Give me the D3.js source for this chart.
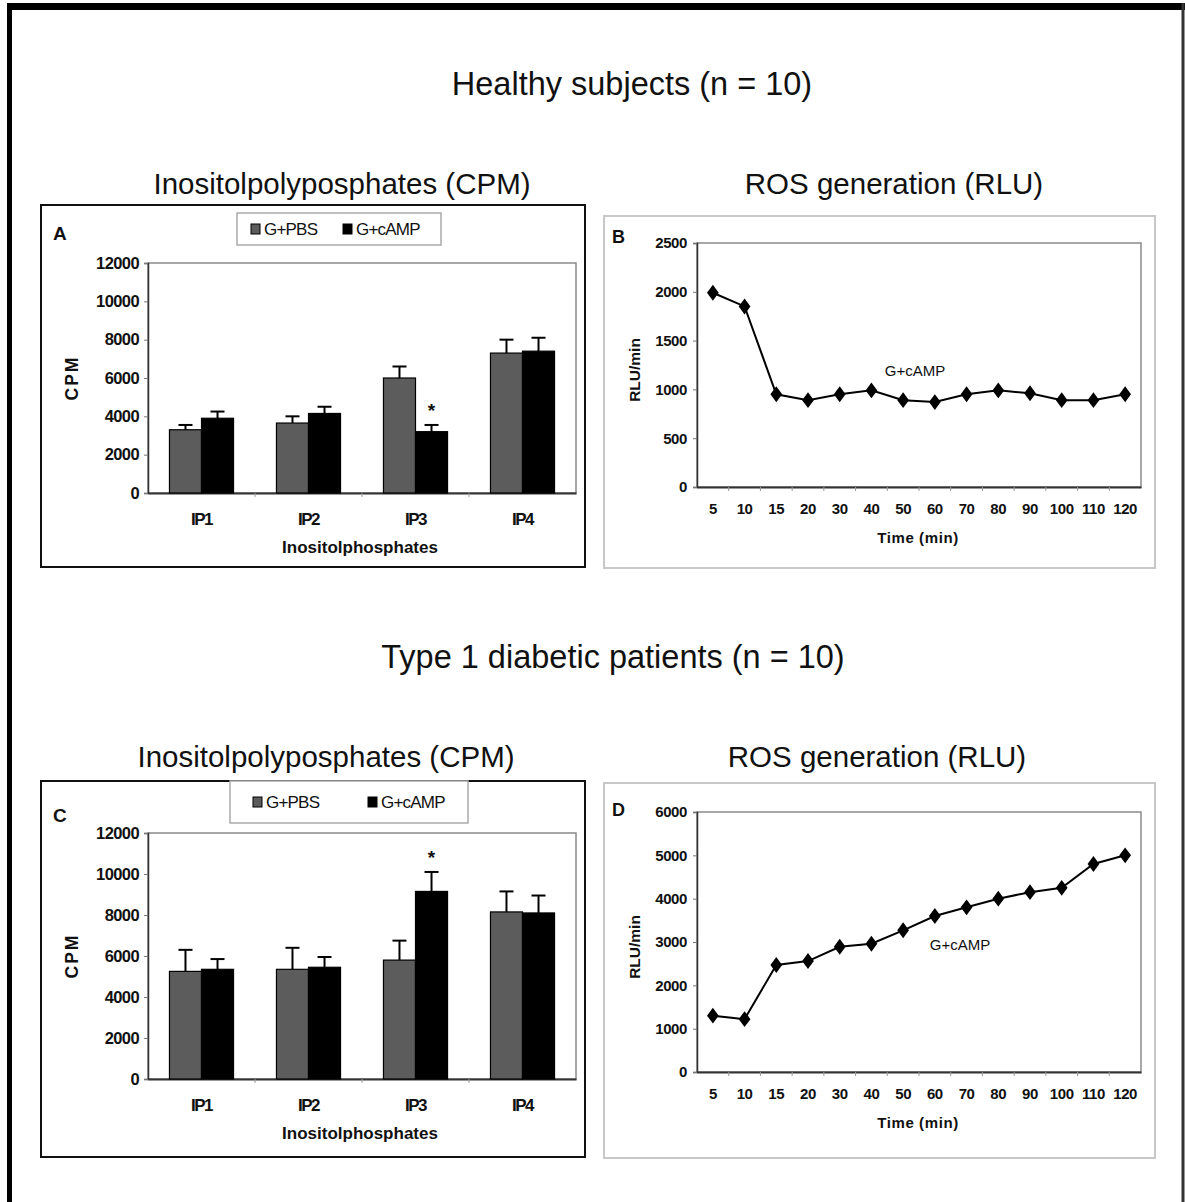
<!DOCTYPE html>
<html>
<head>
<meta charset="utf-8">
<script src="https://cdn.jsdelivr.net/npm/d3@7"></script>
<style>
  body { margin: 0; background: #fff; }
  text { font-family: "Liberation Sans", Arial, sans-serif; fill: #111; }
</style>
</head>
<body>
<svg id="fig" width="1185" height="1202"></svg>
<script>
// categories / tick labels
const ipCats = ['IP1', 'IP2', 'IP3', 'IP4'];
const seriesNames = ['G+PBS', 'G+cAMP'];
const times = ['5', '10', '15', '20', '30', '40', '50', '60', '70', '80', '90', '100', '110', '120'];
const cpmTicks = [0, 2000, 4000, 6000, 8000, 10000, 12000];
const rosTicksB = [0, 500, 1000, 1500, 2000, 2500];
const rosTicksD = [0, 1000, 2000, 3000, 4000, 5000, 6000];

// healthy subjects
const healthyPBS = [3300, 3650, 6000, 7300];
const healthyPBSErr = [250, 350, 600, 700];
const healthyCAMP = [3900, 4150, 3200, 7400];
const healthyCAMPErr = [350, 350, 350, 700];
const healthyStar = [null, null, 'G+cAMP', null];
const healthyROS = [1990, 1850, 950, 890, 950, 990, 890, 870, 950, 990, 960, 890, 890, 950];

// type 1 diabetic patients
const diabPBS = [5250, 5350, 5800, 8150];
const diabPBSErr = [1050, 1050, 950, 1000];
const diabCAMP = [5350, 5450, 9150, 8100];
const diabCAMPErr = [500, 500, 950, 850];
const diabStar = [null, null, 'G+cAMP', null];
const diabROS = [1300, 1220, 2470, 2560, 2890, 2960, 3270, 3600, 3800, 4000, 4150, 4250, 4800, 5000];

const svg = d3.select('#fig');
const fmt = d3.format('d');

// outer frame
svg.append('line').attr('x1', 7).attr('x2', 1185).attr('y1', 6.5).attr('y2', 6.5)
  .attr('stroke', '#000').attr('stroke-width', 7);
svg.append('line').attr('x1', 9.5).attr('x2', 9.5).attr('y1', 3).attr('y2', 1202)
  .attr('stroke', '#000').attr('stroke-width', 5);
svg.append('line').attr('x1', 1183).attr('x2', 1183).attr('y1', 3).attr('y2', 1202)
  .attr('stroke', '#333').attr('stroke-width', 3);

let heading = function (x, y, txt, size) {
  svg.append('text').attr('x', x).attr('y', y).attr('text-anchor', 'middle')
    .style('font-size', size + 'px').text(txt);
};
heading(632, 95, 'Healthy subjects (n = 10)', 32.5);
heading(342, 194, 'Inositolpolyposphates (CPM)', 29.5);
heading(894, 194, 'ROS generation (RLU)', 29.5);
heading(613, 668, 'Type 1 diabetic patients (n = 10)', 32.5);
heading(326, 767, 'Inositolpolyposphates (CPM)', 29.5);
heading(877, 767, 'ROS generation (RLU)', 29.5);

const drawBars = function (c) {
  let g = svg.append('g');
  g.append('rect').attr('x', c.box[0]).attr('y', c.box[1])
    .attr('width', c.box[2] - c.box[0]).attr('height', c.box[3] - c.box[1])
    .attr('fill', '#fff').attr('stroke', '#111').attr('stroke-width', 2);

  let x = d3.scaleBand().domain(ipCats).range([c.plot[0], c.plot[2]]);
  let xs = d3.scaleBand().domain(seriesNames).range([0, x.bandwidth()]).paddingOuter(0.67);
  let y = d3.scaleLinear().domain([0, 12000]).range([c.plot[3], c.plot[1]]);

  g.append('rect').attr('x', c.plot[0]).attr('y', c.plot[1])
    .attr('width', c.plot[2] - c.plot[0]).attr('height', c.plot[3] - c.plot[1])
    .attr('fill', 'none').attr('stroke', '#8a8a8a').attr('stroke-width', 1.5);

  let yAxis = g.append('g').attr('transform', 'translate(' + c.plot[0] + ',0)')
    .call(d3.axisLeft(y).tickValues(cpmTicks).tickFormat(fmt).tickSize(4).tickPadding(5));
  yAxis.select('.domain').attr('stroke', '#333').attr('stroke-width', 1.5);
  yAxis.selectAll('.tick line').attr('stroke', '#777');
  yAxis.selectAll('text').style('font-size', '16.5px').style('font-weight', 'bold')
    .style('letter-spacing', '-0.6px').attr('fill', '#111');

  let xAxis = g.append('g').attr('transform', 'translate(0,' + c.plot[3] + ')')
    .call(d3.axisBottom(x).tickSize(0).tickPadding(20));
  xAxis.select('.domain').attr('stroke', '#333').attr('stroke-width', 2);
  xAxis.selectAll('text').style('font-size', '17px').style('font-weight', 'bold')
    .style('letter-spacing', '-1.5px').attr('fill', '#111');
  // category boundary ticks
  g.selectAll('.bt').data(ipCats.slice(1)).enter().append('line')
    .attr('x1', d => x(d)).attr('x2', d => x(d))
    .attr('y1', c.plot[3]).attr('y2', c.plot[3] + 4).attr('stroke', '#999');

  let series = [
    { name: 'G+PBS', vals: c.pbs, err: c.pbsErr, fill: '#5c5c5c' },
    { name: 'G+cAMP', vals: c.camp, err: c.campErr, fill: '#000' }
  ];
  series.forEach(function (s) {
    let bars = g.append('g');
    bars.selectAll('rect').data(ipCats).enter().append('rect')
      .attr('x', d => x(d) + xs(s.name))
      .attr('width', xs.bandwidth())
      .attr('y', (d, i) => y(s.vals[i]))
      .attr('height', (d, i) => y(0) - y(s.vals[i]))
      .attr('fill', s.fill).attr('stroke', '#000').attr('stroke-width', 1.2);
    // error bars (upper only)
    ipCats.forEach(function (d, i) {
      let cx = x(d) + xs(s.name) + xs.bandwidth() / 2;
      let top = y(s.vals[i] + s.err[i]);
      bars.append('line').attr('x1', cx).attr('x2', cx)
        .attr('y1', y(s.vals[i])).attr('y2', top)
        .attr('stroke', '#000').attr('stroke-width', 2);
      bars.append('line').attr('x1', cx - 7).attr('x2', cx + 7)
        .attr('y1', top).attr('y2', top)
        .attr('stroke', '#000').attr('stroke-width', 2);
      if (c.star[i] === s.name) {
        g.append('text').attr('x', cx).attr('y', top - 8)
          .attr('text-anchor', 'middle').style('font-size', '19px')
          .style('font-weight', 'bold').text('*');
      }
    });
  });

  // axis titles
  g.append('text').attr('x', (c.plot[0] + c.plot[2]) / 2 - 2).attr('y', c.plot[3] + 60)
    .attr('text-anchor', 'middle').style('font-size', '17px').style('font-weight', 'bold')
    .text('Inositolphosphates');
  g.append('text')
    .attr('transform', 'translate(' + (c.box[0] + 37) + ',' + ((c.plot[1] + c.plot[3]) / 2) + ') rotate(-90)')
    .attr('text-anchor', 'middle').style('font-size', '17.5px').style('font-weight', 'bold')
    .style('letter-spacing', '2px').text('CPM');
  g.append('text').attr('x', c.box[0] + 12).attr('y', c.letterY)
    .style('font-size', '19px').style('font-weight', 'bold').text(c.letter);

  // legend
  let L = c.legend;
  g.append('rect').attr('x', L[0]).attr('y', L[1]).attr('width', L[2] - L[0]).attr('height', L[3] - L[1])
    .attr('fill', '#fff').attr('stroke', '#aaa').attr('stroke-width', 1.5);
  let ly = (L[1] + L[3]) / 2;
  series.forEach(function (s, i) {
    let lx = c.legendX[i];
    g.append('rect').attr('x', lx).attr('y', ly - 5).attr('width', 9).attr('height', 10)
      .attr('fill', s.fill).attr('stroke', '#000').attr('stroke-width', 1);
    g.append('text').attr('x', lx + 13).attr('y', ly + 6)
      .style('font-size', '17px').style('letter-spacing', '-0.8px').text(s.name);
  });
};

const drawLine = function (c) {
  let g = svg.append('g');
  g.append('rect').attr('x', c.box[0]).attr('y', c.box[1])
    .attr('width', c.box[2] - c.box[0]).attr('height', c.box[3] - c.box[1])
    .attr('fill', '#fff').attr('stroke', '#c8c8c8').attr('stroke-width', 2);

  let x = d3.scaleBand().domain(times).range([c.plot[0], c.plot[2]]);
  let y = d3.scaleLinear().domain([0, c.ticks[c.ticks.length - 1]]).range([c.plot[3], c.plot[1]]);

  g.append('rect').attr('x', c.plot[0]).attr('y', c.plot[1])
    .attr('width', c.plot[2] - c.plot[0]).attr('height', c.plot[3] - c.plot[1])
    .attr('fill', 'none').attr('stroke', '#8a8a8a').attr('stroke-width', 1.5);

  let yAxis = g.append('g').attr('transform', 'translate(' + c.plot[0] + ',0)')
    .call(d3.axisLeft(y).tickValues(c.ticks).tickFormat(fmt).tickSize(4).tickPadding(6));
  yAxis.select('.domain').attr('stroke', '#333').attr('stroke-width', 1.5);
  yAxis.selectAll('.tick line').attr('stroke', '#777');
  yAxis.selectAll('text').style('font-size', '15px').style('font-weight', 'bold')
    .style('letter-spacing', '-0.4px').attr('fill', '#111');

  let xAxis = g.append('g').attr('transform', 'translate(0,' + c.plot[3] + ')')
    .call(d3.axisBottom(x).tickSize(0).tickPadding(16));
  xAxis.select('.domain').attr('stroke', '#333').attr('stroke-width', 2);
  xAxis.selectAll('text').style('font-size', '15px').style('font-weight', 'bold')
    .style('letter-spacing', '-0.4px').attr('fill', '#111');
  g.selectAll('.bt').data(times.slice(1)).enter().append('line')
    .attr('x1', d => x(d)).attr('x2', d => x(d))
    .attr('y1', c.plot[3]).attr('y2', c.plot[3] + 4).attr('stroke', '#999');

  let line = d3.line().x((d, i) => x(times[i]) + x.bandwidth() / 2).y(d => y(d));
  g.append('path').datum(c.vals).attr('d', line)
    .attr('fill', 'none').attr('stroke', '#000').attr('stroke-width', 2);
  g.selectAll('.pt').data(c.vals).enter().append('path')
    .attr('d', d3.symbol().type(d3.symbolDiamond).size(90))
    .attr('transform', (d, i) => 'translate(' + (x(times[i]) + x.bandwidth() / 2) + ',' + y(d) + ') scale(1.15,0.9)')
    .attr('fill', '#000');

  g.append('text').attr('x', c.label[0]).attr('y', c.label[1])
    .attr('text-anchor', 'middle').style('font-size', '15px').text('G+cAMP');
  g.append('text').attr('x', (c.plot[0] + c.plot[2]) / 2 - 1).attr('y', c.plot[3] + 56)
    .attr('text-anchor', 'middle').style('font-size', '15px').style('font-weight', 'bold')
    .style('letter-spacing', '0.6px').text('Time (min)');
  g.append('text')
    .attr('transform', 'translate(' + (c.box[0] + 36) + ',' + ((c.plot[1] + c.plot[3]) / 2 + 5) + ') rotate(-90)')
    .attr('text-anchor', 'middle').style('font-size', '15.5px').style('font-weight', 'bold')
    .text('RLU/min');
  g.append('text').attr('x', c.box[0] + 8).attr('y', c.letterY)
    .style('font-size', '18px').style('font-weight', 'bold').text(c.letter);
};

drawBars({
  letter: 'A', letterY: 240,
  box: [41, 205, 585, 567], plot: [148, 263, 576, 493],
  legend: [237, 213, 441, 245], legendX: [251, 343],
  pbs: healthyPBS, pbsErr: healthyPBSErr, camp: healthyCAMP, campErr: healthyCAMPErr,
  star: healthyStar
});
drawLine({
  letter: 'B', letterY: 243,
  box: [604, 216, 1155, 568], plot: [697, 243, 1141, 487],
  ticks: rosTicksB, vals: healthyROS, label: [915, 376]
});
drawBars({
  letter: 'C', letterY: 822,
  box: [41, 781, 585, 1157], plot: [148, 833, 576, 1079],
  legend: [230, 781, 468, 823], legendX: [253, 368],
  pbs: diabPBS, pbsErr: diabPBSErr, camp: diabCAMP, campErr: diabCAMPErr,
  star: diabStar
});
drawLine({
  letter: 'D', letterY: 816,
  box: [604, 783, 1155, 1158], plot: [697, 812, 1141, 1072],
  ticks: rosTicksD, vals: diabROS, label: [960, 950]
});
</script>
</body>
</html>
